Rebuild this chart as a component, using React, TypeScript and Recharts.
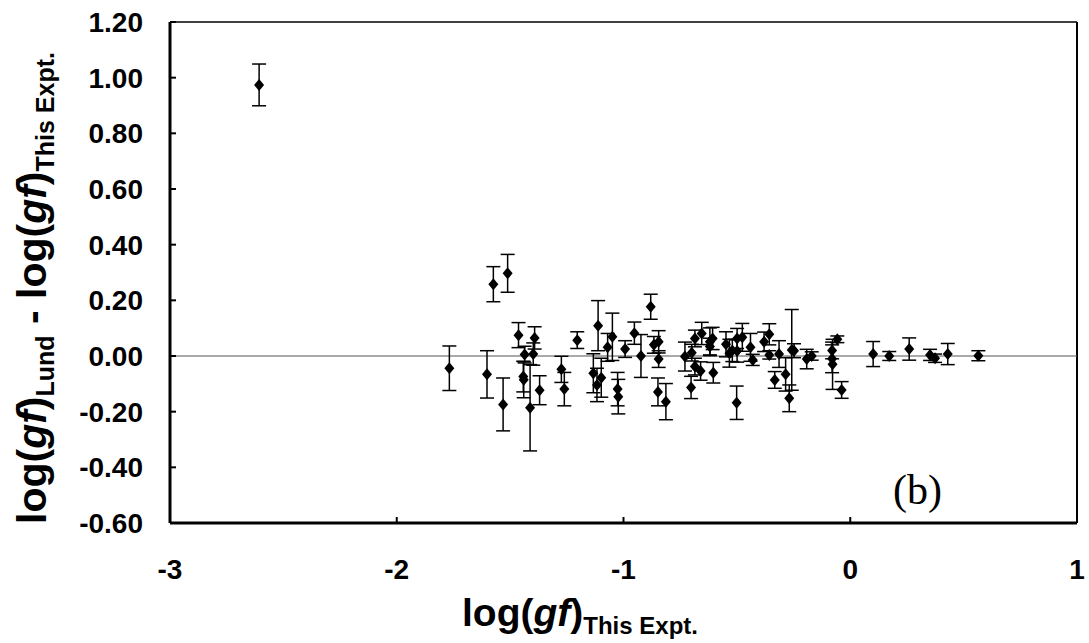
import React from "react";
import {
  ScatterChart,
  Scatter,
  XAxis,
  YAxis,
  ErrorBar,
  ReferenceLine,
} from "recharts";

// log(gf) from this experiment
const logGfThis: number[] = [
  -2.607, -1.768, -1.602, -1.574, -1.531, -1.511, -1.463, -1.442, -1.436, -1.44,
  -1.398, -1.392, -1.412, -1.37, -1.274, -1.261, -1.204, -1.133, -1.117, -1.112,
  -1.098, -1.07, -1.049, -1.026, -1.023, -0.993, -0.952, -0.923, -0.88, -0.866,
  -0.845, -0.845, -0.848, -0.813, -0.729, -0.702, -0.699, -0.685, -0.685, -0.66,
  -0.655, -0.619, -0.619, -0.607, -0.604, -0.548, -0.533, -0.52, -0.499, -0.499,
  -0.476, -0.501, -0.44, -0.43, -0.38, -0.357, -0.357, -0.333, -0.314, -0.285,
  -0.269, -0.258, -0.248, -0.192, -0.17, -0.08, -0.08, -0.078, -0.057, -0.038,
  0.101, 0.172, 0.26, 0.352, 0.374, 0.43, 0.565,
];

// log(gf) Lund - log(gf) this experiment
const logGfDiff: number[] = [
  0.974, -0.044, -0.066, 0.258, -0.174, 0.297, 0.075, -0.074, 0.005, -0.085,
  0.007, 0.065, -0.186, -0.123, -0.048, -0.119, 0.057, -0.062, -0.104, 0.109,
  -0.078, 0.031, 0.069, -0.119, -0.146, 0.025, 0.082, 0.0, 0.177, 0.04,
  0.051, -0.011, -0.129, -0.164, -0.002, -0.113, 0.012, 0.063, -0.038, -0.054,
  0.081, 0.051, 0.034, 0.063, -0.06, 0.042, 0.01, 0.02, 0.063, 0.018,
  0.067, -0.168, 0.031, -0.014, 0.051, 0.078, 0.004, -0.086, 0.007, -0.066,
  -0.152, 0.022, 0.019, -0.011, 0.0, 0.02, -0.01, -0.03, 0.06, -0.122,
  0.007, 0.0, 0.025, 0.004, -0.008, 0.007, 0.001,
];

// uncertainty of each difference
const diffErr: number[] = [
  0.075, 0.08, 0.085, 0.063, 0.095, 0.068, 0.045, 0.055, 0.03, 0.065,
  0.04, 0.04, 0.155, 0.052, 0.047, 0.06, 0.03, 0.07, 0.06, 0.09,
  0.07, 0.05, 0.085, 0.06, 0.062, 0.03, 0.04, 0.077, 0.045, 0.03,
  0.04, 0.03, 0.05, 0.065, 0.052, 0.04, 0.03, 0.03, 0.03, 0.033,
  0.04, 0.05, 0.03, 0.04, 0.037, 0.045, 0.05, 0.04, 0.036, 0.04,
  0.05, 0.06, 0.05, 0.02, 0.035, 0.038, 0.015, 0.03, 0.048, 0.06,
  0.048, 0.145, 0.025, 0.035, 0.015, 0.03, 0.05, 0.09, 0.012, 0.03,
  0.045, 0.016, 0.04, 0.02, 0.015, 0.038, 0.018,
];

const xTicks = [-3, -2, -1, 0, 1];
const yTicks = [-0.6, -0.4, -0.2, 0, 0.2, 0.4, 0.6, 0.8, 1.0, 1.2];

const data = logGfThis.map((x, i) => ({ x, y: logGfDiff[i], err: diffErr[i] }));

const FONT = "Arial, 'Liberation Sans', sans-serif";

const Diamond = (props: any) => {
  const { cx, cy } = props;
  if (cx == null || cy == null) return null;
  return (
    <polygon
      points={`${cx},${cy - 6} ${cx + 5},${cy} ${cx},${cy + 6} ${cx - 5},${cy}`}
      fill="#000"
    />
  );
};

const YTick = (props: any) => {
  const { x, y, payload } = props;
  return (
    <g>
      <line x1={x} x2={x + 6} y1={y} y2={y} stroke="#000" strokeWidth={2} />
      <text
        x={x - 27}
        y={y}
        dy="0.36em"
        textAnchor="end"
        fontFamily={FONT}
        fontWeight="bold"
        fontSize={28}
        fill="#000"
      >
        {Number(payload.value).toFixed(2)}
      </text>
    </g>
  );
};

const XTick = (props: any) => {
  const { x, y, payload } = props;
  return (
    <g>
      <line x1={x} x2={x} y1={y} y2={y - 6} stroke="#000" strokeWidth={2} />
      <text
        x={x}
        y={y + 56}
        textAnchor="middle"
        fontFamily={FONT}
        fontWeight="bold"
        fontSize={28}
        fill="#000"
      >
        {payload.value}
      </text>
    </g>
  );
};

const XTitle = () => (
  <text x={580} y={626} textAnchor="middle" fontFamily={FONT} fontWeight="bold" fill="#000">
    <tspan fontSize={39}>log(</tspan>
    <tspan fontSize={39} fontStyle="italic">gf</tspan>
    <tspan fontSize={39}>)</tspan>
    <tspan fontSize={24} dy={8}>This Expt.</tspan>
  </text>
);

const YTitle = () => (
  <text
    x={0}
    y={0}
    transform="translate(46,288) rotate(-90)"
    textAnchor="middle"
    fontFamily={FONT}
    fontWeight="bold"
    fill="#000"
  >
    <tspan fontSize={41}>log(</tspan>
    <tspan fontSize={41} fontStyle="italic">gf</tspan>
    <tspan fontSize={41}>)</tspan>
    <tspan fontSize={25} dy={8}>Lund</tspan>
    <tspan fontSize={41} dy={-8}> - log(</tspan>
    <tspan fontSize={41} fontStyle="italic">gf</tspan>
    <tspan fontSize={41}>)</tspan>
    <tspan fontSize={25} dy={8}>This Expt.</tspan>
  </text>
);

export default function App() {
  return (
    <div style={{ position: "absolute", left: 0, top: 0, background: "#fff" }}>
      <ScatterChart
        width={1089}
        height={643}
        margin={{ top: 22, right: 12, bottom: 0, left: 0 }}
      >
        <XAxis
          type="number"
          dataKey="x"
          domain={[-3, 1]}
          ticks={xTicks}
          height={120}
          tickSize={0}
          tickMargin={0}
          tickLine={false}
          axisLine={{ stroke: "#000", strokeWidth: 3 }}
          tick={<XTick />}
          label={{ content: () => <XTitle /> }}
        />
        <YAxis
          type="number"
          dataKey="y"
          domain={[-0.6, 1.2]}
          ticks={yTicks}
          width={170}
          tickSize={0}
          tickMargin={0}
          tickLine={false}
          axisLine={{ stroke: "#000", strokeWidth: 3 }}
          tick={<YTick />}
          label={{ content: () => <YTitle /> }}
        />
        <ReferenceLine y={1.2} stroke="#000" strokeWidth={1.5} />
        <ReferenceLine x={1} stroke="#000" strokeWidth={2} />
        <ReferenceLine y={0} stroke="#555" strokeWidth={1.2} />
        <Scatter data={data} shape={<Diamond />} isAnimationActive={false}>
          <ErrorBar
            dataKey="err"
            direction="y"
            width={7}
            stroke="#000"
            strokeWidth={1.5}
            isAnimationActive={false}
          />
        </Scatter>
        {/* panel tag */}
        <text x={893} y={504} fontFamily="'Liberation Serif', 'Times New Roman', serif" fontSize={42} fill="#000">
          (b)
        </text>
      </ScatterChart>
    </div>
  );
}
